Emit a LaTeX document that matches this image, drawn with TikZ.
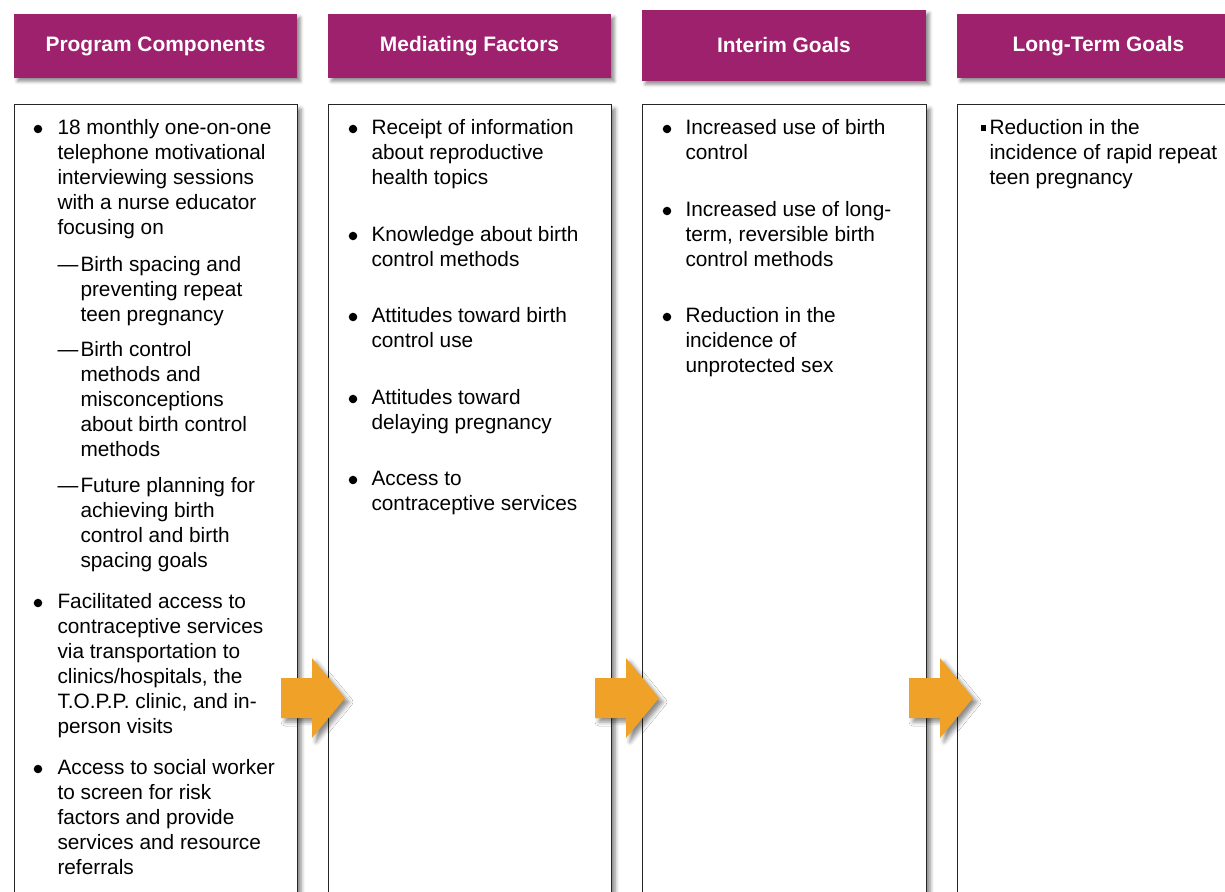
\documentclass[tikz,border=0pt]{standalone}
\usepackage{fontspec}
\setmainfont{Liberation Sans}
\usetikzlibrary{shadows.blur}
\definecolor{hdrpurple}{RGB}{157,33,109}
\definecolor{arroworange}{RGB}{240,161,40}

\tikzset{every picture/.style={line width=0.75pt}}
\tikzset{
  hdr/.style={fill=hdrpurple, text=white, inner sep=0pt, font=\fontsize{15.7}{18}\selectfont\bfseries,
    minimum width=212.25pt, minimum height=48pt,
    blur shadow={shadow xshift=2.5pt, shadow yshift=-2.5pt, shadow blur radius=2.5pt, shadow opacity=45}},
  colbox/.style={draw=black!85, fill=white,
    blur shadow={shadow xshift=3pt, shadow yshift=-3pt, shadow blur radius=3pt, shadow opacity=50}},
  itm/.style={anchor=base west, align=left, inner sep=0pt, font=\fontsize{15.6}{18.75}\selectfont},
  dot/.style={circle, fill=black, inner sep=0pt, minimum size=6.4pt},
  sqdot/.style={rectangle, fill=black, inner sep=0pt, minimum size=3.8pt},
  blockarrow/.style={fill=arroworange,
    blur shadow={shadow xshift=3pt, shadow yshift=-3pt, shadow blur radius=3pt, shadow opacity=45}}
}

\begin{document}
\begin{tikzpicture}[x=0.75pt,y=0.75pt,yscale=-1,xscale=1]
\useasboundingbox (0,0) rectangle (1225,892);
\clip (0,0) rectangle (1225,892);

%Header Nodes
\node[hdr] (hprog) at (155.5,46) {Program Components};
\node[hdr] (hmed) at (469.5,46) {Mediating Factors};
\node[hdr, minimum width=213pt, minimum height=53.25pt] (hint) at (784,45.5) {Interim Goals};
\node[hdr] (hlong) at (1098.5,46) {Long-Term Goals};

%Column Boxes
\draw[colbox] (14,105) rectangle (297,930);
\draw[colbox] (328,105) rectangle (611,930);
\draw[colbox] (642,105) rectangle (926,930);
\draw[colbox] (957,105) rectangle (1240,930);

%Block Arrows
\fill[blockarrow] (281,678) -- (312,678) -- (312,658) -- (345,698) -- (312,738) -- (312,718) -- (281,718) -- cycle;
\fill[blockarrow] (595,678) -- (626,678) -- (626,658) -- (659,698) -- (626,738) -- (626,718) -- (595,718) -- cycle;
\fill[blockarrow] (909,678) -- (940,678) -- (940,658) -- (973,698) -- (940,738) -- (940,718) -- (909,718) -- cycle;

% Text Node: program components (placed at the baseline of the last line)
\node[dot] (pb1) at (38,129) {};
\node[itm] (p1) at (57,234) {18 monthly one-on-one\\telephone motivational\\interviewing sessions\\with a nurse educator\\focusing on};
\node[itm] (pd1) at (57,271) {—};
\node[itm] (p1a) at (80,321) {Birth spacing and\\preventing repeat\\teen pregnancy};
\node[itm] (pd2) at (57,356) {—};
\node[itm] (p1b) at (80,456) {Birth control\\methods and\\misconceptions\\about birth control\\methods};
\node[itm] (pd3) at (57,492) {—};
\node[itm] (p1c) at (80,567) {Future planning for\\achieving birth\\control and birth\\spacing goals};
\node[dot] (pb2) at (38,603) {};
\node[itm] (p2) at (57,733) {Facilitated access to\\contraceptive services\\via transportation to\\clinics/hospitals, the\\T.O.P.P. clinic, and in-\\person visits};
\node[dot] (pb3) at (38,769) {};
\node[itm] (p3) at (57,874) {Access to social worker\\to screen for risk\\factors and provide\\services and resource\\referrals};

% Text Node: mediating factors
\node[dot] (mb1) at (353,129) {};
\node[itm] (m1) at (371,184) {Receipt of information\\about reproductive\\health topics};
\node[dot] (mb2) at (353,236) {};
\node[itm] (m2) at (371,266) {Knowledge about birth\\control methods};
\node[dot] (mb3) at (353,317) {};
\node[itm] (m3) at (371,347) {Attitudes toward birth\\control use};
\node[dot] (mb4) at (353,399) {};
\node[itm] (m4) at (371,429) {Attitudes toward\\delaying pregnancy};
\node[dot] (mb5) at (353,480) {};
\node[itm] (m5) at (371,510) {Access to\\contraceptive services};

% Text Node: interim goals
\node[dot] (ib1) at (667,129) {};
\node[itm] (i1) at (685,159) {Increased use of birth\\control};
\node[dot] (ib2) at (667,211) {};
\node[itm] (i2) at (685,266) {Increased use of long-\\term, reversible birth\\control methods};
\node[dot] (ib3) at (667,317) {};
\node[itm] (i3) at (685,372) {Reduction in the\\incidence of\\unprotected sex};

% Text Node: long-term goals
\node[sqdot] (lb1) at (983.5,128) {};
\node[itm] (l1) at (989,184) {Reduction in the\\incidence of rapid repeat\\teen pregnancy};

\end{tikzpicture}
\end{document}
